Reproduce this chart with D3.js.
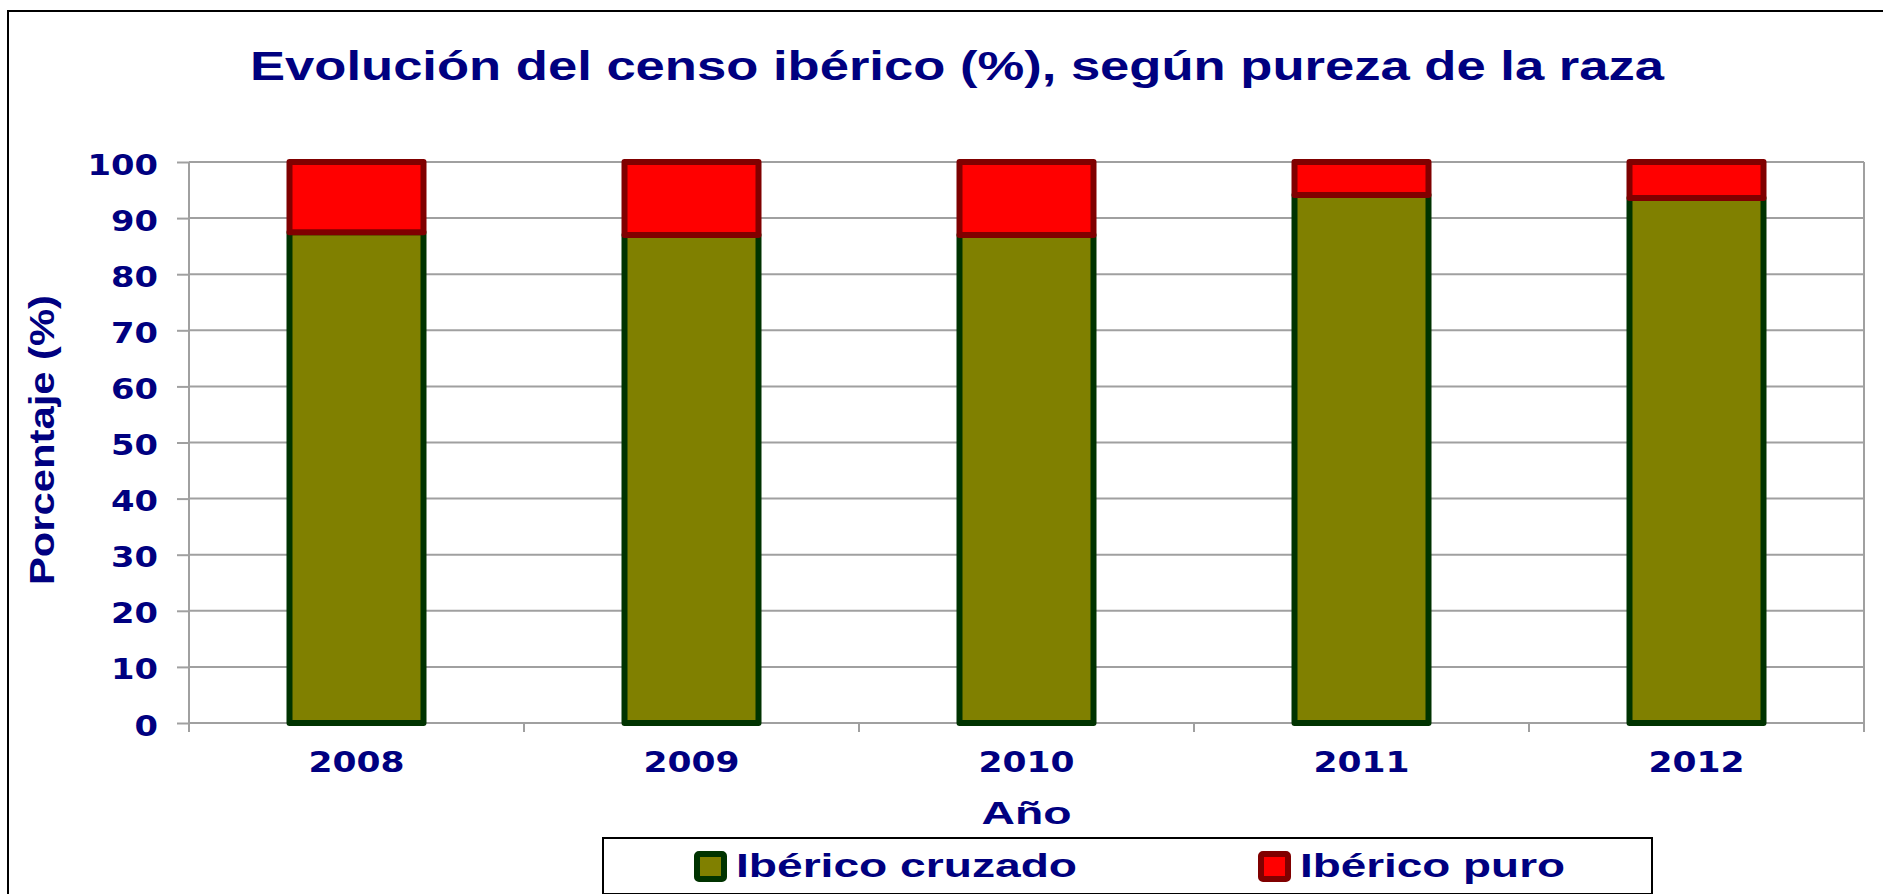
<!DOCTYPE html>
<html>
<head>
<meta charset="utf-8">
<script src="https://cdn.jsdelivr.net/npm/d3@7"></script>
<style>
  body { margin: 0; background: white; }
  svg { display: block; }
</style>
</head>
<body>
<script>
const W = 1883, H = 894;

// data
const years = ["2008", "2009", "2010", "2011", "2012"];
const cruzado = [87.5, 87.0, 87.0, 94.1, 93.6];
const puro = [12.5, 13.0, 13.0, 5.9, 6.4];
const seriesNames = ["Ibérico cruzado", "Ibérico puro"];
const yTicks = [0, 10, 20, 30, 40, 50, 60, 70, 80, 90, 100];

const navy = "#000080";
const fills = ["#808000", "#ff0000"];
const strokes = ["#003300", "#800000"];
const gridCol = "#a0a0a0";

const svg = d3.select("body").append("svg")
    .attr("width", W).attr("height", H);

// outer frame
svg.append("rect")
    .attr("x", 8).attr("y", 11)
    .attr("width", W + 10).attr("height", H + 10)
    .attr("fill", "white").attr("stroke", "black").attr("stroke-width", 2);

const plotL = 189, plotR = 1864, plotT = 162, plotB = 723;

const x = d3.scaleBand().domain(years).range([plotL, plotR])
    .paddingInner(0.6).paddingOuter(0.3);
const y = d3.scaleLinear().domain([0, 100]).range([plotB, plotT]);

// grid
svg.append("g")
    .selectAll("line").data(yTicks.filter(d => d > 0)).join("line")
    .attr("x1", plotL).attr("x2", plotR)
    .attr("y1", d => y(d)).attr("y2", d => y(d))
    .attr("stroke", gridCol).attr("stroke-width", 2);
svg.append("line")
    .attr("x1", plotR).attr("x2", plotR).attr("y1", plotT).attr("y2", plotB + 9)
    .attr("stroke", gridCol).attr("stroke-width", 2);

// y axis
const yAxis = svg.append("g")
    .attr("transform", `translate(${plotL},0)`)
    .call(d3.axisLeft(y).tickValues(yTicks).tickSize(12).tickPadding(0).tickSizeOuter(0));
yAxis.select(".domain").remove();
yAxis.selectAll(".tick line").attr("stroke", gridCol).attr("stroke-width", 2);
yAxis.append("line").attr("x1", 0).attr("x2", 0).attr("y1", plotT).attr("y2", plotB + 9)
    .attr("stroke", gridCol).attr("stroke-width", 2);
yAxis.selectAll(".tick text")
    .attr("x", -31).attr("dy", 0).attr("y", 12)
    .attr("fill", navy)
    .style("font-family", "'DejaVu Sans', Verdana, sans-serif")
    .style("font-weight", "bold").style("font-size", "28px")
    .attr("textLength", d => String(d).length * 23.5)
    .attr("lengthAdjust", "spacingAndGlyphs");

// x axis
svg.append("line").attr("x1", plotL).attr("x2", plotR).attr("y1", plotB).attr("y2", plotB)
    .attr("stroke", gridCol).attr("stroke-width", 2);
svg.append("g").selectAll("line").data(d3.range(years.length + 1)).join("line")
    .attr("x1", i => plotL + i * x.step()).attr("x2", i => plotL + i * x.step())
    .attr("y1", plotB).attr("y2", plotB + 9)
    .attr("stroke", gridCol).attr("stroke-width", 2);
const xAxis = svg.append("g")
    .attr("transform", `translate(0,${plotB})`)
    .call(d3.axisBottom(x).tickSize(0).tickPadding(0));
xAxis.select(".domain").remove();
xAxis.selectAll(".tick text")
    .attr("y", 49).attr("dy", 0)
    .attr("fill", navy)
    .style("font-family", "'DejaVu Sans', Verdana, sans-serif")
    .style("font-weight", "bold").style("font-size", "28px")
    .attr("textLength", 96)
    .attr("lengthAdjust", "spacingAndGlyphs");

// stacked bars
const table = years.map((yr, i) => ({ year: yr, cruzado: cruzado[i], puro: puro[i] }));
const stacked = d3.stack().keys(["cruzado", "puro"])(table);

svg.append("g").selectAll("g").data(stacked).join("g")
    .attr("fill", (d, i) => fills[i])
    .attr("stroke", (d, i) => strokes[i])
    .attr("stroke-width", 6)
    .attr("stroke-linejoin", "round")
    .selectAll("rect").data(d => d).join("rect")
    .attr("x", d => x(d.data.year))
    .attr("width", x.bandwidth())
    .attr("y", d => y(d[1]))
    .attr("height", d => y(d[0]) - y(d[1]));

// texts
function label(txt, px, py, size, len, anchor, family) {
    return svg.append("text")
        .attr("x", px).attr("y", py)
        .attr("text-anchor", anchor)
        .attr("fill", navy)
        .style("font-family", family || "'Liberation Sans', Arial, sans-serif")
        .style("font-weight", "bold")
        .style("font-size", size + "px")
        .attr("textLength", len)
        .attr("lengthAdjust", "spacingAndGlyphs")
        .text(txt);
}

label("Evolución del censo ibérico (%), según pureza de la raza", 957, 80, 41, 1414, "middle");
label("Año", (plotL + plotR) / 2, 824, 32, 90, "middle");
label("Porcentaje (%)", 0, 0, 35, 290, "middle")
    .attr("transform", "translate(54,440) rotate(-90)");

// legend
svg.append("rect")
    .attr("x", 603).attr("y", 838).attr("width", 1049).attr("height", 56)
    .attr("fill", "white").attr("stroke", "black").attr("stroke-width", 2);
const legX = [697, 1261];
const legTextX = [736, 1300];
const legLen = [341, 265];
seriesNames.forEach((name, i) => {
    svg.append("rect")
        .attr("x", legX[i]).attr("y", 854)
        .attr("width", 27).attr("height", 25)
        .attr("rx", 2)
        .attr("fill", fills[i]).attr("stroke", strokes[i]).attr("stroke-width", 6);
    label(name, legTextX[i], 877, 34, legLen[i], "start");
});
</script>
</body>
</html>
